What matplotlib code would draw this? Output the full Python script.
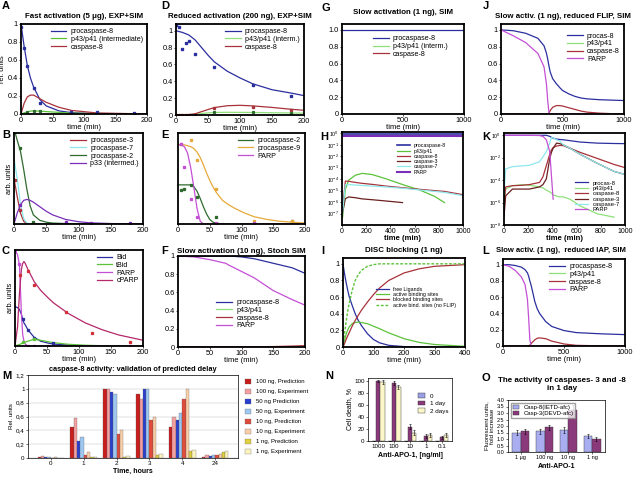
import numpy as np
import matplotlib
matplotlib.use('Agg')
import matplotlib.pyplot as plt

plt.rcParams['font.family'] = ['Liberation Sans', 'DejaVu Sans']
plt.rcParams['font.size'] = 5.5
plt.rcParams['mathtext.default'] = 'regular'

BLUE = '#2b2f9e'
GREEN = '#5cc23a'
LGREEN = '#8fe07a'
RED = '#a8323a'
DRED = '#6b1f1f'
CYAN = '#8ee8ec'
MAG = '#c44fd6'
PURP = '#7a2fb8'
ORANGE = '#e6a93a'
DGREEN = '#2f6b2f'
CPARP = '#b5286a'

# ---------------- panel A: fast activation (5 ug) ----------------
a_t = [0, 5, 10, 15, 20, 30, 40, 60, 80, 120, 200]
a_pro8 = [1.0, 0.75, 0.54, 0.40, 0.30, 0.16, 0.09, 0.035, 0.015, 0.003, 0.0]
a_p43 = [0.0, 0.012, 0.025, 0.032, 0.035, 0.032, 0.027, 0.018, 0.01, 0.003, 0.0]
a_c8 = [0.0, 0.12, 0.19, 0.21, 0.21, 0.17, 0.13, 0.075, 0.04, 0.012, 0.0]
a_pro8_exp_t = [0, 5, 10, 20, 30, 80, 120, 180]
a_pro8_exp = [0.97, 0.73, 0.53, 0.29, 0.12, 0.02, 0.02, 0.01]
a_p43_exp_t = [10, 20, 30]
a_p43_exp = [0.02, 0.035, 0.03]

# ---------------- panel D: reduced activation (200 ng) ----------------
d_t = [0, 10, 20, 30, 40, 50, 60, 80, 100, 120, 150, 180, 200]
d_pro8 = [1.0, 0.98, 0.95, 0.89, 0.80, 0.71, 0.63, 0.52, 0.44, 0.37, 0.30, 0.26, 0.23]
d_p43 = [0.0, 0.0, 0.002, 0.008, 0.018, 0.025, 0.03, 0.032, 0.031, 0.03, 0.027, 0.024, 0.022]
d_c8 = [0.0, 0.0, 0.005, 0.015, 0.04, 0.065, 0.088, 0.11, 0.115, 0.108, 0.09, 0.068, 0.056]
d_pro8_exp_t = [0, 5, 10, 15, 20, 30, 60, 120, 180]
d_pro8_exp = [1.07, 1.05, 0.78, 0.85, 0.88, 0.72, 0.57, 0.36, 0.22]
d_c8_exp_t = [0, 5, 10, 15, 20, 30, 60, 120, 180]
d_c8_exp = [0.0, 0.0, 0.0, 0.0, 0.0, 0.0, 0.08, 0.1, 0.06]
d_p43_exp_t = [60, 120, 180]
d_p43_exp = [0.04, 0.03, 0.02]

# ---------------- panel G: slow activation (1 ng) ----------------
g_t = [0, 1000]
g_pro8 = [1.0, 1.0]
g_p43 = [0.0, 0.0]
g_c8 = [0.0, 0.0]

# ---------------- panel J: reduced FLIP ----------------
j_t = [0, 100, 200, 300, 350, 370, 380, 390, 400, 420, 450, 480, 500, 550, 600, 650, 700, 800, 900, 1000]
j_pro8 = [1.0, 0.99, 0.96, 0.90, 0.81, 0.72, 0.65, 0.57, 0.50, 0.42, 0.36, 0.31, 0.28, 0.24, 0.21, 0.19, 0.18, 0.17, 0.165, 0.16]
j_parp = [1.0, 0.93, 0.85, 0.72, 0.56, 0.35, 0.15, 0.02, 0.0, 0.0, 0.0, 0.0, 0.0, 0.0, 0.0, 0.0, 0.0, 0.0, 0.0, 0.0]
j_c8 = [0.0, 0.0, 0.0, 0.0, 0.0, 0.0, 0.0, 0.01, 0.04, 0.08, 0.10, 0.10, 0.095, 0.075, 0.055, 0.035, 0.022, 0.01, 0.004, 0.002]
j_p43 = [0.0] * 20

# ---------------- panel B ----------------
b_t = [0, 5, 10, 15, 20, 25, 30, 40, 50, 60, 80, 100, 120, 150, 200]
b_pro3 = [0.50, 0.30, 0.12, 0.03, 0.0, 0.0, 0.0, 0.0, 0.0, 0.0, 0.0, 0.0, 0.0, 0.0, 0.0]
b_pro7 = [0.72, 0.50, 0.22, 0.06, 0.01, 0.0, 0.0, 0.0, 0.0, 0.0, 0.0, 0.0, 0.0, 0.0, 0.0]
b_pro2 = [1.05, 0.92, 0.80, 0.60, 0.38, 0.20, 0.10, 0.04, 0.02, 0.01, 0.005, 0.0, 0.0, 0.0, 0.0]
b_p33 = [0.0, 0.12, 0.21, 0.26, 0.27, 0.26, 0.24, 0.19, 0.14, 0.10, 0.05, 0.025, 0.012, 0.005, 0.0]
b_pro3_exp_t = [2, 10]
b_pro3_exp = [0.48, 0.15]
b_pro2_exp_t = [10, 30]
b_pro2_exp = [0.83, 0.02]
b_p33_exp_t = [10, 80, 120, 180]
b_p33_exp = [0.21, 0.02, 0.01, 0.01]

# ---------------- panel E ----------------
e_t = [0, 5, 10, 15, 20, 25, 30, 35, 40, 45, 50, 55, 60, 70, 80, 90, 105, 120, 140, 160, 180, 200]
e_pro2 = [0.43, 0.43, 0.43, 0.43, 0.43, 0.41, 0.36, 0.28, 0.19, 0.11, 0.05, 0.02, 0.01, 0.0, 0.0, 0.0, 0.0, 0.0, 0.0, 0.0, 0.0, 0.0]
e_pro9 = [0.87, 0.87, 0.87, 0.86, 0.85, 0.83, 0.79, 0.73, 0.65, 0.56, 0.48, 0.41, 0.35, 0.26, 0.21, 0.17, 0.12, 0.08, 0.05, 0.03, 0.02, 0.01]
e_parp = [0.87, 0.87, 0.85, 0.78, 0.62, 0.40, 0.17, 0.03, 0.0, 0.0, 0.0, 0.0, 0.0, 0.0, 0.0, 0.0, 0.0, 0.0, 0.0, 0.0, 0.0, 0.0]
e_pro2_exp_t = [5, 10, 20, 30, 60, 180]
e_pro2_exp = [0.37, 0.39, 0.43, 0.30, 0.08, 0.03]
e_pro9_exp_t = [5, 20, 30, 60, 120, 180]
e_pro9_exp = [0.88, 0.92, 0.70, 0.39, 0.03, 0.03]
e_parp_exp_t = [5, 10, 20, 30, 60, 120]
e_parp_exp = [0.88, 0.63, 0.28, 0.08, 0.01, 0.01]

# ---------------- panel H (log) ----------------
h_t = [5, 28, 55, 110, 167, 250, 361, 500, 640, 764, 847, 1000]
h_pro8 = [0.8] * 12
h_parp = [0.62] * 12
h_p43 = [5e-8, 1.3e-5, 8e-5, 2.2e-4, 3.2e-4, 2.5e-4, 1.1e-4, 3.4e-5, 1.15e-5, 3.2e-6, 9e-7, np.nan]
h_c8 = [2.5e-7, 6.8e-5, 6.5e-5, 5.2e-5, 4.3e-5, 3.5e-5, 2.5e-5, 1.8e-5, 1.3e-5, 1e-5, 8.5e-6, 4.4e-6]
h_c3 = [1.3e-7, 2e-6, 2.8e-6, 2.4e-6, 1.9e-6, 1.6e-6, 1.25e-6, 9e-7, np.nan, np.nan, np.nan, np.nan]
h_c7 = [1.3e-7, 3.2e-5, 3.4e-5, 3.1e-5, 2.8e-5, 2.5e-5, 2.1e-5, 1.6e-5, 1.15e-5, 8.5e-6, 7e-6, 3.6e-6]

# ---------------- panel K (log) ----------------
k_t = [0, 14, 70, 154, 210, 294, 322, 350, 378, 392, 406, 434, 462, 490, 546, 630, 770, 910, 1000]
k_pro8 = [1.0, 1.0, 1.0, 1.0, 1.0, 1.0, 1.0, 1.0, 0.8, 0.66, 0.55, 0.46, 0.42, 0.4, 0.33, 0.25, 0.2, 0.185, 0.18]
k_parp = [1.0, 1.0, 1.0, 1.0, 1.0, 0.95, 0.8, 0.4, 0.035, 2.5e-4, 2e-6, np.nan, np.nan, np.nan, np.nan, np.nan, np.nan, np.nan, np.nan]
k_c7 = [8e-6, 1e-3, 1.6e-3, 1.9e-3, 2.1e-3, 4.4e-3, 0.012, 0.035, 0.2, 0.66, 0.6, 0.4, 0.3, 0.14, 0.07, 0.02, 3.2e-3, 6e-4, 3.2e-4]
k_c8 = [1e-6, 2.5e-5, 3.2e-5, 3.5e-5, 4e-5, 6.3e-5, 2e-4, 2e-3, 0.02, 0.05, 0.08, 0.11, 0.125, 0.12, 0.07, 0.03, 8.7e-3, 2.5e-3, 1.3e-3]
k_c3 = [6e-8, 4e-6, 1.6e-5, 1.6e-5, 1.6e-5, 2.5e-5, 4e-5, 1.3e-4, 8.7e-3, 0.03, 0.07, 0.2, 0.18, 0.14, 0.07, 0.02, 3.2e-3, 6e-4, 3.2e-4]
k_p43 = [2.5e-7, 1.6e-5, 3.2e-5, 4e-5, 3.5e-5, 2.5e-5, 2e-5, 1.3e-5, 9e-6, 7e-6, 5e-6, 3.8e-6, 3.2e-6, 3.2e-6, 2e-6, 5e-7, 1e-7, 5e-8, np.nan]

# ---------------- panel C ----------------
c_t = [0, 4, 7, 10, 12, 14, 16, 20, 30, 40, 52, 60, 83, 110, 136, 162, 200]
c_bid = [0.41, 0.40, 0.38, 0.33, 0.28, 0.24, 0.22, 0.17, 0.09, 0.05, 0.03, 0.02, 0.01, 0.0, 0.0, 0.0, 0.0]
c_tbid = [0.0, 0.01, 0.015, 0.025, 0.03, 0.035, 0.04, 0.05, 0.07, 0.06, 0.045, 0.035, 0.018, 0.008, 0.003, 0.0, 0.0]
c_parp = [1.0, 0.95, 0.84, 0.34, 0.12, 0.05, 0.02, 0.0, 0.0, 0.0, 0.0, 0.0, 0.0, 0.0, 0.0, 0.0, 0.0]
c_cparp = [0.0, 0.2, 0.55, 0.8, 0.86, 0.88, 0.86, 0.80, 0.67, 0.58, 0.50, 0.45, 0.34, 0.24, 0.17, 0.115, 0.06]
c_bid_exp_t = [12, 20, 30, 60]
c_bid_exp = [0.28, 0.17, 0.08, 0.03]
c_tbid_exp_t = [12, 30]
c_tbid_exp = [0.045, 0.07]
c_parp_exp_t = [0, 7, 20, 30, 52, 80, 180]
c_parp_exp = [1.0, 0.85, 0.0, 0.0, 0.0, 0.0, 0.0]
c_cparp_exp_t = [8, 20, 30, 80, 120, 180]
c_cparp_exp = [0.74, 0.78, 0.64, 0.35, 0.14, 0.04]

# ---------------- panel F: stochastic ----------------
f_t = [0, 25, 50, 75, 80, 100, 120, 150, 180, 200]
f_pro8 = [1.0, 1.0, 1.0, 1.0, 1.0, 0.99, 0.97, 0.92, 0.87, 0.81]
f_parp = [1.0, 0.99, 0.96, 0.92, 0.90, 0.83, 0.76, 0.62, 0.52, 0.46]
f_p43 = [0.0, 0.0, 0.0, 0.0, 0.0, 0.0, 0.0, 0.002, 0.005, 0.008]
f_c8 = [0.0, 0.0, 0.0, 0.0, 0.0, 0.0, 0.002, 0.005, 0.01, 0.015]

# ---------------- panel I: DISC blocking ----------------
i_t = [0, 5, 10, 15, 20, 30, 40, 50, 60, 80, 100, 120, 150, 200, 250, 300, 400]
i_free = [1.0, 0.88, 0.78, 0.69, 0.61, 0.50, 0.40, 0.32, 0.26, 0.16, 0.09, 0.05, 0.02, 0.005, 0.0, 0.0, 0.0]
i_active = [0.0, 0.08, 0.15, 0.2, 0.24, 0.28, 0.295, 0.3, 0.295, 0.28, 0.25, 0.22, 0.17, 0.1, 0.055, 0.03, 0.008]
i_blocked = [0.0, 0.04, 0.09, 0.13, 0.17, 0.25, 0.32, 0.38, 0.44, 0.54, 0.63, 0.71, 0.80, 0.89, 0.94, 0.97, 0.99]
i_noflip = [0.0, 0.16, 0.3, 0.42, 0.52, 0.68, 0.8, 0.87, 0.92, 0.97, 0.99, 1.0, 1.0, 1.0, 1.0, 1.0, 1.0]

# ---------------- panel L: reduced IAP ----------------
l_t = [0, 50, 100, 150, 180, 200, 210, 220, 230, 250, 260, 280, 300, 350, 400, 500, 600, 800, 1000]
l_pro8 = [1.0, 1.0, 0.99, 0.97, 0.94, 0.90, 0.86, 0.80, 0.75, 0.62, 0.55, 0.46, 0.40, 0.30, 0.24, 0.19, 0.165, 0.15, 0.14]
l_parp = [1.0, 0.98, 0.93, 0.85, 0.76, 0.58, 0.35, 0.08, 0.0, 0.0, 0.0, 0.0, 0.0, 0.0, 0.0, 0.0, 0.0, 0.0, 0.0]
l_c8 = [0.0, 0.0, 0.0, 0.0, 0.0, 0.0, 0.0, 0.01, 0.03, 0.06, 0.075, 0.095, 0.10, 0.09, 0.06, 0.025, 0.008, 0.002, 0.0]
l_p43 = [0.0] * 19

# ---------------- panel M: bar chart ----------------
m_times = ['0', '1', '2', '3', '4', '24']
m_labels = ['100 ng, Prediction', '100 ng, Experiment', '50 ng Prediction', '50 ng, Experiment',
            '10 ng, Prediction', '10 ng, Experiment', '1 ng, Prediction', '1 ng, Experiment']
m_colors = ['#c81e1e', '#f4a0a0', '#2b3fcf', '#9ec8f0', '#e04c3c', '#f8cfa8', '#e0d040', '#fbf3c0']
m_vals = [
    [0.02, 0.45, 1.0, 0.92, 0.45, 0.02],
    [0.03, 0.58, 1.0, 0.85, 0.60, 0.05],
    [0.01, 0.25, 0.95, 1.0, 0.55, 0.03],
    [0.02, 0.30, 0.92, 1.0, 0.65, 0.04],
    [0.0, 0.05, 0.35, 0.55, 0.85, 0.05],
    [0.01, 0.08, 0.40, 0.60, 1.0, 0.06],
    [0.0, 0.01, 0.02, 0.05, 0.10, 0.08],
    [0.0, 0.02, 0.03, 0.06, 0.12, 0.10],
]

# ---------------- panel N ----------------
n_doses = ['1000', '100', '10', '1', '0.1']
n_labels = ['0', '1 day', '2 days']
n_colors = ['#9aa0e8', '#8a3a7a', '#fbf7c8']
n_vals = [[0.5, 0.5, 0.5, 0.5, 0.5],
          [100, 97, 24, 8, 6],
          [98, 90, 14, 10, 10]]
n_errs = [[0.3, 0.3, 0.3, 0.3, 0.3],
          [2, 3, 4, 3, 3],
          [3, 4, 4, 4, 4]]

# ---------------- panel O ----------------
o_doses = ['1 \u03bcg', '100 ng', '10 ng', '1 ng']
o_labels = ['Casp-8(IETD-afc)', 'Casp-3(DEVD-afc)']
o_colors = ['#a9aef0', '#8a3a7a']
o_vals = [[1.5, 1.6, 1.7, 1.2],
          [1.6, 1.9, 3.2, 1.0]]
o_errs = [[0.2, 0.2, 0.2, 0.15],
          [0.2, 0.2, 0.4, 0.15]]

W, H = 640, 483
fig = plt.figure(figsize=(6.4, 4.83), dpi=100)

TFS = 5.7   # title size
LFS = 5.1   # legend size


def axes_px(l, t, r, b):
    return fig.add_axes([l / W, 1 - b / H, (r - l) / W, (b - t) / H])


def style(ax, lw=1.3):
    for s in ax.spines.values():
        s.set_linewidth(lw)
    ax.tick_params(length=1.5, width=0.5, pad=1, labelsize=5.3)


def letter(x, y, s):
    fig.text(x / W, 1 - y / H, s, fontsize=8, fontweight='bold', va='center')


def legend(ax, **kw):
    leg = ax.legend(frameon=False, fontsize=LFS, handlelength=2.2, labelspacing=0.1,
                    handletextpad=0.6, borderaxespad=0.2, **kw)
    return leg


def title(ax, s, pad=4):
    ax.set_title(s, fontsize=TFS, fontweight='bold', pad=pad)


def xlab(ax, s='time (min)', bold=False):
    ax.set_xlabel(s, fontsize=5.5, labelpad=0, fontweight='bold' if bold else 'normal')


# A
ax = axes_px(21, 24, 147, 114)
ax.plot(a_t, a_pro8, color=BLUE, lw=0.9, label='procaspase-8')
ax.plot(a_t, a_p43, color=GREEN, lw=0.9, label='p43/p41 (intermediate)')
ax.plot(a_t, a_c8, color=RED, lw=0.9, label='caspase-8')
ax.plot(a_pro8_exp_t, a_pro8_exp, 's', color=BLUE, ms=1.6)
ax.plot(a_p43_exp_t, a_p43_exp, 's', color=DGREEN, ms=1.3)
ax.set_xlim(0, 200)
ax.set_ylim(0, 1.0)
ax.set_yticks([0, 0.2, 0.4, 0.6, 0.8, 1])
ax.set_yticklabels(['0', '0.2', '0.4', '0.6', '0.8', '1'])
ax.set_ylabel('rel. units', fontsize=5.3, labelpad=1)
title(ax, 'Fast activation (5 \u03bcg), EXP+SIM')
xlab(ax)
legend(ax, loc='upper right')
style(ax)
letter(2, 6, 'A')

# D
ax = axes_px(176, 24, 304, 115)
ax.plot(d_t, d_pro8, color=BLUE, lw=0.9, label='procaspase-8')
ax.plot(d_t, d_p43, color=LGREEN, lw=0.9, label='p43/p41 (interm.)')
ax.plot(d_t, d_c8, color=RED, lw=0.9, label='caspase-8')
ax.plot(d_pro8_exp_t, d_pro8_exp, 's', color=BLUE, ms=1.6)
ax.plot(d_c8_exp_t, d_c8_exp, 's', color=RED, ms=1.4)
ax.plot(d_p43_exp_t, d_p43_exp, 's', color=DGREEN, ms=1.3)
ax.set_xlim(0, 200)
ax.set_ylim(0, 1.08)
ax.set_yticks([0, 0.2, 0.4, 0.6, 0.8, 1])
ax.set_yticklabels(['0', '0.2', '0.4', '0.6', '0.8', '1'])
title(ax, 'Reduced activation (200 ng), EXP+SIM')
xlab(ax)
legend(ax, loc='upper right')
style(ax)
letter(161, 6, 'D')

# G
ax = axes_px(342, 24, 464, 114)
ax.plot(g_t, g_pro8, color=BLUE, lw=0.9, label='procaspase-8')
ax.plot(g_t, g_p43, color=LGREEN, lw=0.9, label='p43/p41 (interm.)')
ax.plot(g_t, g_c8, color=RED, lw=0.9, label='caspase-8')
ax.set_xlim(0, 1000)
ax.set_ylim(0, 1.07)
ax.set_xticks([0, 500, 1000])
ax.set_yticks([0, 0.2, 0.4, 0.6, 0.8, 1.0])
ax.set_yticklabels(['0', '0.2', '0.4', '0.6', '0.8', '1.0'])
title(ax, 'Slow activation (1 ng), SIM', pad=7)
xlab(ax)
legend(ax, loc='upper right', bbox_to_anchor=(0.9, 0.92))
style(ax)
letter(321, 8, 'G')

# J
ax = axes_px(501, 24, 624, 114)
ax.plot(j_t, j_pro8, color=BLUE, lw=0.9, label='procas-8')
ax.plot(j_t, j_p43, color=LGREEN, lw=0.9, label='p43/p41')
ax.plot(j_t, j_c8, color=RED, lw=0.9, label='caspase-8')
ax.plot(j_t, j_parp, color=MAG, lw=0.9, label='PARP')
ax.set_xlim(0, 1000)
ax.set_ylim(0, 1.07)
ax.set_xticks([0, 500, 1000])
ax.set_yticks([0, 0.2, 0.4, 0.6, 0.8, 1])
ax.set_yticklabels(['0', '0.2', '0.4', '0.6', '0.8', '1'])
title(ax, 'Slow activ. (1 ng), reduced FLIP, SIM')
xlab(ax)
legend(ax, loc='upper right', bbox_to_anchor=(1.0, 0.95))
style(ax)
letter(483, 6, 'J')

# B
ax = axes_px(14, 133, 143, 224)
ax.plot(b_t, b_pro3, color=RED, lw=0.9, label='procaspase-3')
ax.plot(b_t, b_pro7, color=CYAN, lw=0.9, label='procaspase-7')
ax.plot(b_t, b_pro2, color=DGREEN, lw=0.9, label='procaspase-2')
ax.plot(b_t, b_p33, color=PURP, lw=0.9, label='p33 (intermed.)')
ax.plot(b_pro3_exp_t, b_pro3_exp, 's', color=RED, ms=1.4)
ax.plot(b_pro2_exp_t, b_pro2_exp, 's', color=DGREEN, ms=1.4)
ax.plot(b_p33_exp_t, b_p33_exp, 's', color=PURP, ms=1.4)
ax.set_xlim(0, 200)
ax.set_ylim(0, 1.0)
ax.set_yticks([])
ax.set_ylabel('arb. units', fontsize=5.3, labelpad=1)
xlab(ax)
legend(ax, loc='upper right')
style(ax)
letter(2, 135, 'B')

# E
ax = axes_px(178, 133, 305, 224)
ax.plot(e_t, e_pro2, color=DGREEN, lw=0.9, label='procaspase-2')
ax.plot(e_t, e_pro9, color=ORANGE, lw=0.9, label='procaspase-9')
ax.plot(e_t, e_parp, color=MAG, lw=0.9, label='PARP')
ax.plot(e_pro2_exp_t, e_pro2_exp, 's', color=DGREEN, ms=1.4)
ax.plot(e_pro9_exp_t, e_pro9_exp, 's', color=ORANGE, ms=1.4)
ax.plot(e_parp_exp_t, e_parp_exp, 's', color=MAG, ms=1.4)
ax.set_xlim(0, 200)
ax.set_ylim(0, 1.0)
ax.set_yticks([])
xlab(ax)
legend(ax, loc='upper right')
style(ax)
letter(161, 135, 'E')

# H
ax = axes_px(342, 132, 463, 225)
ax.semilogy(h_t, h_pro8, color=BLUE, lw=1.2, label='procaspase-8')
ax.semilogy(h_t, h_p43, color=GREEN, lw=0.9, label='p43/p41')
ax.semilogy(h_t, h_c8, color=RED, lw=0.9, label='caspase-8')
ax.semilogy(h_t, h_c3, color=DRED, lw=0.9, label='caspase-3')
ax.semilogy(h_t, h_c7, color=CYAN, lw=0.9, label='caspase-7')
ax.semilogy(h_t, h_parp, color=PURP, lw=1.5, label='PARP')
ax.set_xlim(0, 1000)
ax.set_ylim(1e-8, 1.3)
ax.set_yticks([1e0, 1e-1, 1e-2, 1e-3, 1e-4, 1e-5, 1e-6, 1e-7])
ax.minorticks_off()
xlab(ax, bold=True)
ax.legend(frameon=False, fontsize=3.8, handlelength=2.4, labelspacing=0.05,
          loc='upper right', bbox_to_anchor=(0.9, 0.93))
style(ax)
ax.tick_params(axis='y', labelsize=3.8, pad=0.5)
ax.tick_params(axis='x', labelsize=5)
letter(320, 137, 'H')

# K
ax = axes_px(504, 133, 625, 225)
ax.semilogy(k_t, k_pro8, color=BLUE, lw=0.9, label='procas-8')
ax.semilogy(k_t, k_p43, color=LGREEN, lw=0.9, label='p43/p41')
ax.semilogy(k_t, k_c8, color=RED, lw=0.9, label='caspase-8')
ax.semilogy(k_t, k_c3, color=DRED, lw=0.9, label='caspase-3')
ax.semilogy(k_t, k_c7, color=CYAN, lw=0.9, label='caspase-7')
ax.semilogy(k_t, k_parp, color=MAG, lw=0.9, label='PARP')
ax.set_xlim(0, 1000)
ax.set_ylim(1e-8, 1.6)
ax.set_yticks([1e0, 1e-2, 1e-4, 1e-6, 1e-8])
ax.minorticks_off()
xlab(ax, bold=True)
ax.legend(frameon=False, fontsize=4.2, handlelength=2.2, labelspacing=0.05,
          loc='lower right', bbox_to_anchor=(1.0, 0.08))
style(ax)
ax.tick_params(axis='y', labelsize=3.8, pad=0.5)
ax.tick_params(axis='x', labelsize=5)
letter(482, 137, 'K')

# C
ax = axes_px(15, 250, 143, 346)
ax.plot(c_t, c_bid, color=BLUE, lw=0.9, label='Bid')
ax.plot(c_t, c_tbid, color=GREEN, lw=0.9, label='tBid')
ax.plot(c_t, c_parp, color=MAG, lw=0.9, label='PARP')
ax.plot(c_t, c_cparp, color=CPARP, lw=0.9, label='cPARP')
ax.plot(c_bid_exp_t, c_bid_exp, 's', color=BLUE, ms=1.4)
ax.plot(c_tbid_exp_t, c_tbid_exp, 's', color=GREEN, ms=1.4)
ax.plot(c_parp_exp_t, c_parp_exp, 's', color=MAG, ms=1.4)
ax.plot(c_cparp_exp_t, c_cparp_exp, 's', color='#d0303a', ms=1.4)
ax.set_xlim(0, 200)
ax.set_ylim(0, 1.0)
ax.set_yticks([])
ax.set_ylabel('arb. units', fontsize=5.3, labelpad=1)
xlab(ax)
legend(ax, loc='upper right')
style(ax)
letter(2, 251, 'C')

# F
ax = axes_px(178, 256, 305, 347)
ax.plot(f_t, f_pro8, color=BLUE, lw=0.9, label='procaspase-8')
ax.plot(f_t, f_p43, color=LGREEN, lw=0.9, label='p43/p41')
ax.plot(f_t, f_c8, color=RED, lw=0.9, label='caspase-8')
ax.plot(f_t, f_parp, color=MAG, lw=0.9, label='PARP')
ax.set_xlim(0, 200)
ax.set_ylim(0, 1.0)
ax.set_yticks([0, 0.2, 0.4, 0.6, 0.8, 1])
ax.set_yticklabels(['0', '0.2', '0.4', '0.6', '0.8', '1'])
title(ax, 'Slow activation (10 ng), Stoch SIM', pad=2)
xlab(ax)
legend(ax, loc='center', bbox_to_anchor=(0.55, 0.36))
style(ax)
letter(161, 251, 'F')

# I
ax = axes_px(343, 258, 465, 347)
ax.plot(i_t, i_free, color=BLUE, lw=0.9, label='free Ligands')
ax.plot(i_t, i_active, color=GREEN, lw=0.9, label='active binding sites')
ax.plot(i_t, i_blocked, color=RED, lw=0.9, label='blocked binding sites')
ax.plot(i_t, i_noflip, color=GREEN, lw=1.0, ls=(0, (2, 1.2)), label='active bind. sites (no FLIP)')
ax.set_xlim(0, 400)
ax.set_ylim(0, 1.07)
ax.set_yticks([0, 0.2, 0.4, 0.6, 0.8, 1])
ax.set_yticklabels(['0', '0.2', '0.4', '0.6', '0.8', '1'])
title(ax, 'DISC blocking (1 ng)', pad=4)
xlab(ax)
ax.legend(frameon=False, fontsize=3.8, handlelength=2.4, labelspacing=0.05,
          loc='center', bbox_to_anchor=(0.6, 0.56))
style(ax)
letter(321, 251, 'I')

# L
ax = axes_px(503, 259, 625, 346)
ax.plot(l_t, l_pro8, color=BLUE, lw=0.9, label='procaspase-8')
ax.plot(l_t, l_p43, color=LGREEN, lw=0.9, label='p43/p41')
ax.plot(l_t, l_c8, color=RED, lw=0.9, label='caspase-8')
ax.plot(l_t, l_parp, color=MAG, lw=0.9, label='PARP')
ax.set_xlim(0, 1000)
ax.set_ylim(0, 1.07)
ax.set_xticks([0, 500, 1000])
ax.set_yticks([0, 0.2, 0.4, 0.6, 0.8, 1])
ax.set_yticklabels(['0', '0.2', '0.4', '0.6', '0.8', '1'])
xlab(ax)
legend(ax, loc='upper right', bbox_to_anchor=(0.93, 1.0))
style(ax)
letter(482, 251, 'L')
fig.text(496 / W, 1 - 251 / H, 'Slow activ. (1 ng),  reduced IAP, SIM', fontsize=5.5,
         fontweight='bold', va='center')

# M
ax = axes_px(28, 375, 238, 458)
nser = len(m_vals)
x = np.arange(len(m_times))
bw = 0.8 / nser
for k in range(nser):
    ax.bar(x - 0.4 + bw * (k + 0.5), m_vals[k], bw, color=m_colors[k],
           edgecolor='#555555', linewidth=0.2, label=m_labels[k])
ax.set_xticks(x)
ax.set_xticklabels(m_times)
ax.set_ylim(0, 1.2)
ax.set_yticks([0, 0.2, 0.4, 0.6, 0.8, 1, 1.2])
ax.set_yticklabels(['0', '0,2', '0,4', '0,6', '0,8', '1', '1,2'])
ax.set_title('caspase-8 activity: validation of predicted delay', fontsize=5.3,
             fontweight='bold', pad=3)
ax.set_xlabel('Time, hours', fontsize=5, labelpad=1, fontweight='bold')
ax.set_ylabel('Rel. units', fontsize=4.5, labelpad=1)
ax.grid(axis='y', color='#bbbbbb', lw=0.3)
ax.set_axisbelow(True)
ax.legend(frameon=False, fontsize=4.3, loc='upper left', bbox_to_anchor=(1.01, 1.02),
          handlelength=1.0, handleheight=0.9, labelspacing=0.75)
for s in ax.spines.values():
    s.set_linewidth(0.5)
ax.tick_params(length=1.5, width=0.4, pad=1, labelsize=4.5)
letter(2, 376, 'M')

# N
ax = axes_px(368, 378, 452, 441)
x = np.arange(len(n_doses))
bw = 0.27
for k in range(len(n_vals)):
    ax.bar(x - bw + bw * k, n_vals[k], bw, yerr=n_errs[k], color=n_colors[k],
           edgecolor='#333333', linewidth=0.3, capsize=1, error_kw={'elinewidth': 0.4, 'capthick': 0.4},
           label=n_labels[k])
ax.set_xticks(x)
ax.set_xticklabels(n_doses)
ax.set_ylim(0, 105)
ax.set_yticks([0, 20, 40, 60, 80, 100])
ax.set_ylabel('Cell death, %', fontsize=5, labelpad=1)
ax.set_xlabel('Anti-APO-1, [ng/ml]', fontsize=5, labelpad=2, fontweight='bold')
ax.legend(frameon=False, fontsize=4.5, loc='upper right', bbox_to_anchor=(1.02, 0.85),
          handlelength=1.0, handleheight=0.8, labelspacing=0.3)
for s in ax.spines.values():
    s.set_linewidth(0.5)
ax.tick_params(length=1.5, width=0.4, pad=1, labelsize=4.5)
letter(325, 376, 'N')

# O
ax = axes_px(508, 400, 605, 452)
x = np.arange(len(o_doses))
bw = 0.35
for k in range(len(o_vals)):
    ax.bar(x - bw / 2 + bw * k, o_vals[k], bw, yerr=o_errs[k], color=o_colors[k],
           edgecolor='#333333', linewidth=0.3, capsize=1, error_kw={'elinewidth': 0.4, 'capthick': 0.4},
           label=o_labels[k])
ax.set_xticks(x)
ax.set_xticklabels(o_doses)
ax.set_ylim(0, 4)
ax.set_yticks([0, 0.5, 1, 1.5, 2, 2.5, 3, 3.5, 4])
ax.set_ylabel('Fluorescent units,\nfold increase', fontsize=4.5, labelpad=1)
ax.set_xlabel('Anti-APO-1', fontsize=5, labelpad=2, fontweight='bold')
ax.legend(frameon=True, fontsize=4.3, loc='upper left', handlelength=1.0, handleheight=0.8,
          labelspacing=0.1, borderpad=0.3, fancybox=False, edgecolor='#888888')
for s in ax.spines.values():
    s.set_linewidth(0.5)
ax.tick_params(length=1.5, width=0.4, pad=1, labelsize=4)
fig.text(562 / W, 1 - 384 / H, 'The activity of caspases- 3 and -8\nin 1 day', fontsize=5.8,
         fontweight='bold', ha='center', va='center')
letter(482, 378, 'O')

fig.savefig('out.png', dpi=100)
